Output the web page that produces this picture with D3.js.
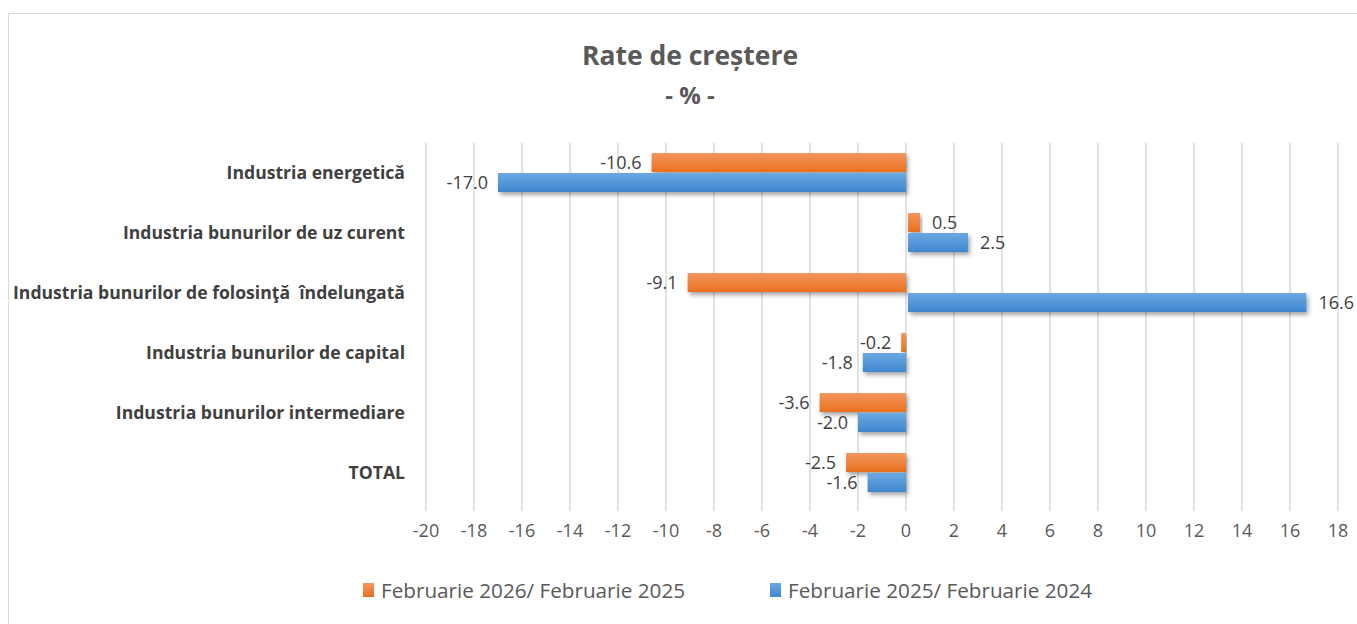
<html>
<head>
<meta charset="utf-8">
<script src="https://cdn.jsdelivr.net/npm/d3@7"></script>
<style>
  body { margin: 0; background: #fff; }
  text { font-family: "Open Sans", Lato, sans-serif; }
</style>
</head>
<body>
<div id="chartContainer"></div>
<script>
// data
var categories = ["Industria energetică", "Industria bunurilor de uz curent",
  "Industria bunurilor de folosinţă  îndelungată", "Industria bunurilor de capital",
  "Industria bunurilor intermediare", "TOTAL"];
var seriesNames = ["Februarie 2026/ Februarie 2025", "Februarie 2025/ Februarie 2024"];
var feb26 = [-10.6, 0.5, -9.1, -0.2, -3.6, -2.5];
var feb25 = [-17.0, 2.5, 16.6, -1.8, -2.0, -1.6];
var xTicks = d3.range(-20, 19, 2);

var width = 1357, height = 624;
var svg = d3.select("#chartContainer").append("svg")
  .attr("width", width).attr("height", height);

var defs = svg.append("defs");
var colors = [["#f4975f", "#e8701f"], ["#6ca8e2", "#3f87cf"]];
colors.forEach(function (c, i) {
  var g = defs.append("linearGradient").attr("id", "grad" + i)
    .attr("x1", 0).attr("y1", 0).attr("x2", 0).attr("y2", 1);
  g.append("stop").attr("offset", "0%").attr("stop-color", c[0]);
  g.append("stop").attr("offset", "100%").attr("stop-color", c[1]);
});
var f = defs.append("filter").attr("id", "shadow")
  .attr("x", "-10%").attr("y", "-30%").attr("width", "130%").attr("height", "190%");
f.append("feDropShadow").attr("dx", 2).attr("dy", 3).attr("stdDeviation", 2)
  .attr("flood-color", "#000").attr("flood-opacity", 0.35);

// frame
svg.append("rect").attr("x", 8.5).attr("y", 13.5).attr("width", 1400).attr("height", 700)
  .attr("fill", "none").attr("stroke", "#d9d9d9");

// title
svg.append("text").attr("x", 690).attr("y", 65).attr("text-anchor", "middle")
  .style("font-size", "26.5px").style("font-weight", "bold").style("fill", "#595959")
  .text("Rate de creștere");
svg.append("text").attr("x", 690).attr("y", 104).attr("text-anchor", "middle")
  .style("font-size", "24px").style("font-weight", "bold").style("fill", "#595959")
  .text("- % -");

var x = d3.scaleLinear().domain([-20, 18]).range([426, 1338]);
var y = d3.scaleBand().domain(categories).range([143, 503]);
var inner = d3.scaleBand().domain([0, 1]).range([10, 50]);

// gridlines
svg.append("g").selectAll("line").data(xTicks).enter().append("line")
  .attr("x1", function (d) { return x(d); }).attr("x2", function (d) { return x(d); })
  .attr("y1", 143).attr("y2", 511)
  .attr("stroke", "#d9d9d9").attr("stroke-width", 1.5);

// tick labels
svg.append("g").selectAll("text").data(xTicks).enter().append("text")
  .attr("x", function (d) { return x(d); }).attr("y", 537)
  .attr("text-anchor", "middle")
  .style("font-size", "18px").style("fill", "#595959")
  .text(function (d) { return d; });

// category labels
svg.append("g").selectAll("text").data(categories).enter().append("text")
  .attr("x", 405).attr("y", function (d) { return y(d) + y.bandwidth() / 2 + 6; })
  .attr("text-anchor", "end")
  .style("white-space", "pre")
  .style("font-size", "17.6px").style("font-weight", "bold").style("fill", "#404040")
  .text(function (d) { return d; });

// bars
[feb26, feb25].forEach(function (vals, si) {
  var g = svg.append("g");
  g.selectAll("rect").data(vals).enter().append("rect")
    .attr("x", function (d) { return d < 0 ? x(d) : x(0) + 2; })
    .attr("y", function (d, i) { return y(categories[i]) + inner(si); })
    .attr("width", function (d) { return Math.abs(x(d) - x(0)); })
    .attr("height", inner.bandwidth() - 1)
    .attr("fill", "url(#grad" + si + ")")
    .attr("filter", "url(#shadow)");
  g.selectAll("text").data(vals).enter().append("text")
    .attr("x", function (d) { return d < 0 ? x(d) - 10 : x(d) + 14; })
    .attr("y", function (d, i) { return y(categories[i]) + inner(si) + inner.bandwidth() / 2 + 6; })
    .attr("text-anchor", function (d) { return d < 0 ? "end" : "start"; })
    .style("font-size", "18px").style("fill", "#404040")
    .text(function (d) { return d.toFixed(1); });
});

// legend
var legX = [363, 770];
seriesNames.forEach(function (n, i) {
  svg.append("rect").attr("x", legX[i]).attr("y", 583).attr("width", 11).attr("height", 14)
    .attr("fill", "url(#grad" + i + ")");
  svg.append("text").attr("x", legX[i] + 18).attr("y", 598)
    .style("font-size", "20.7px").style("fill", "#595959").text(n);
});
</script>
</body>
</html>
